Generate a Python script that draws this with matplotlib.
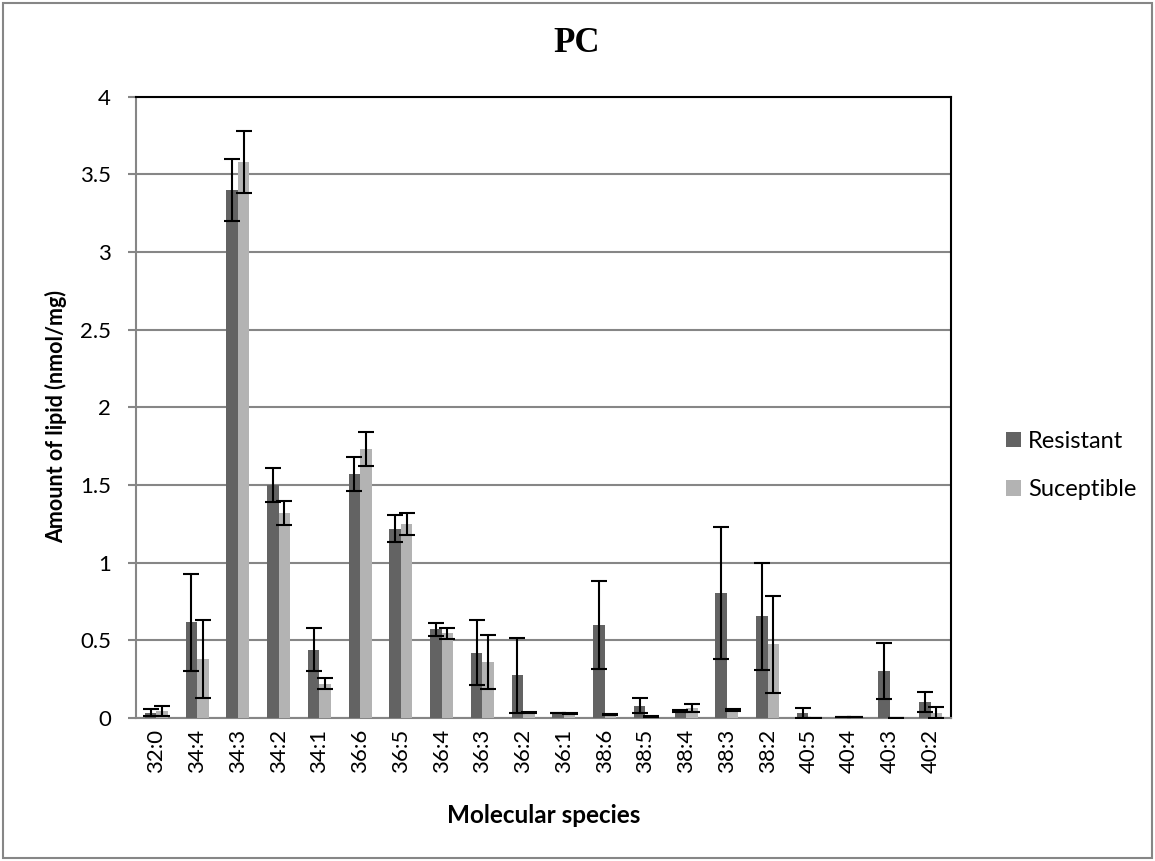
import numpy as np
import matplotlib.pyplot as plt
from matplotlib.patches import Rectangle

species = ['32:0', '34:4', '34:3', '34:2', '34:1', '36:6', '36:5', '36:4', '36:3', '36:2',
           '36:1', '38:6', '38:5', '38:4', '38:3', '38:2', '40:5', '40:4', '40:3', '40:2']
resistant = [0.035, 0.615, 3.40, 1.50, 0.44, 1.57, 1.22, 0.57, 0.42, 0.275,
             0.032, 0.60, 0.08, 0.045, 0.806, 0.656, 0.033, 0.005, 0.30, 0.103]
resistant_err = [0.025, 0.31, 0.20, 0.11, 0.14, 0.11, 0.09, 0.04, 0.21, 0.24,
                 0.003, 0.285, 0.05, 0.005, 0.425, 0.345, 0.03, 0.0, 0.18, 0.065]
suceptible = [0.045, 0.38, 3.58, 1.32, 0.22, 1.73, 1.25, 0.545, 0.36, 0.035,
              0.03, 0.02, 0.012, 0.065, 0.05, 0.474, 0.003, 0.005, 0.003, 0.035]
suceptible_err = [0.03, 0.25, 0.20, 0.08, 0.035, 0.11, 0.07, 0.035, 0.175, 0.005,
                  0.003, 0.003, 0.003, 0.025, 0.005, 0.31, 0.0, 0.0, 0.0, 0.033]

plt.rcParams['font.family'] = ['Lato', 'DejaVu Sans']

fig = plt.figure(figsize=(11.55, 8.61), dpi=100)
ax = fig.add_axes([136/1155, 143/861, (951-136)/1155, (718-96.7)/861])

x = np.arange(len(species))
w = 0.28
grid_c = '#868686'
ekw = dict(ecolor='black', elinewidth=1.5, capsize=6, capthick=1.5)
ax.bar(x - w/2, resistant, w, yerr=resistant_err, color='#636363', label='Resistant',
       error_kw=ekw, zorder=3)
ax.bar(x + w/2, suceptible, w, yerr=suceptible_err, color='#b3b3b3', label='Suceptible',
       error_kw=ekw, zorder=3)

ax.set_xlim(-0.5, len(species) - 0.5)
ax.set_ylim(0, 4)
ax.set_yticks(np.arange(0, 4.01, 0.5))
ax.set_yticklabels(['0', '0.5', '1', '1.5', '2', '2.5', '3', '3.5', '4'])
ax.set_xticks(x)
ax.set_xticklabels(species, rotation=90)
ax.tick_params(axis='x', length=0, labelsize=16, pad=8)
ax.tick_params(axis='y', length=6, width=1.5, color=grid_c, labelsize=16, pad=12)
ax.yaxis.grid(True, color=grid_c, linewidth=1.5, zorder=0)
ax.set_axisbelow(True)

for s in ['left', 'bottom']:
    ax.spines[s].set_color(grid_c)
    ax.spines[s].set_linewidth(1.5)
for s in ['top', 'right']:
    ax.spines[s].set_color('black')
    ax.spines[s].set_linewidth(1.5)

ax.set_ylabel('Amount of lipid (nmol/mg)', fontsize=15.5, fontweight='bold')
ax.yaxis.set_label_coords(-0.085, 0.485)
ax.set_xlabel('Molecular species', fontsize=17.5, fontweight='bold')
ax.xaxis.set_label_coords(0.5, -0.138)
fig.text(577/1155, 1 - 44/861, 'PC', fontsize=25, fontweight='bold',
         family='Liberation Serif', ha='center', va='center')

fig.legend(loc='center left', bbox_to_anchor=(994/1155, 1 - 465.5/861), frameon=False,
           borderpad=0, fontsize=17, handlelength=0.64, handleheight=0.64,
           labelspacing=1.16, handletextpad=0.3)

fig.patches.append(Rectangle((3/1155, 3/861), 1 - 6/1155, 1 - 6/861, transform=fig.transFigure,
                             fill=False, edgecolor=grid_c, linewidth=1.5))

fig.savefig('out.png', dpi=100)
